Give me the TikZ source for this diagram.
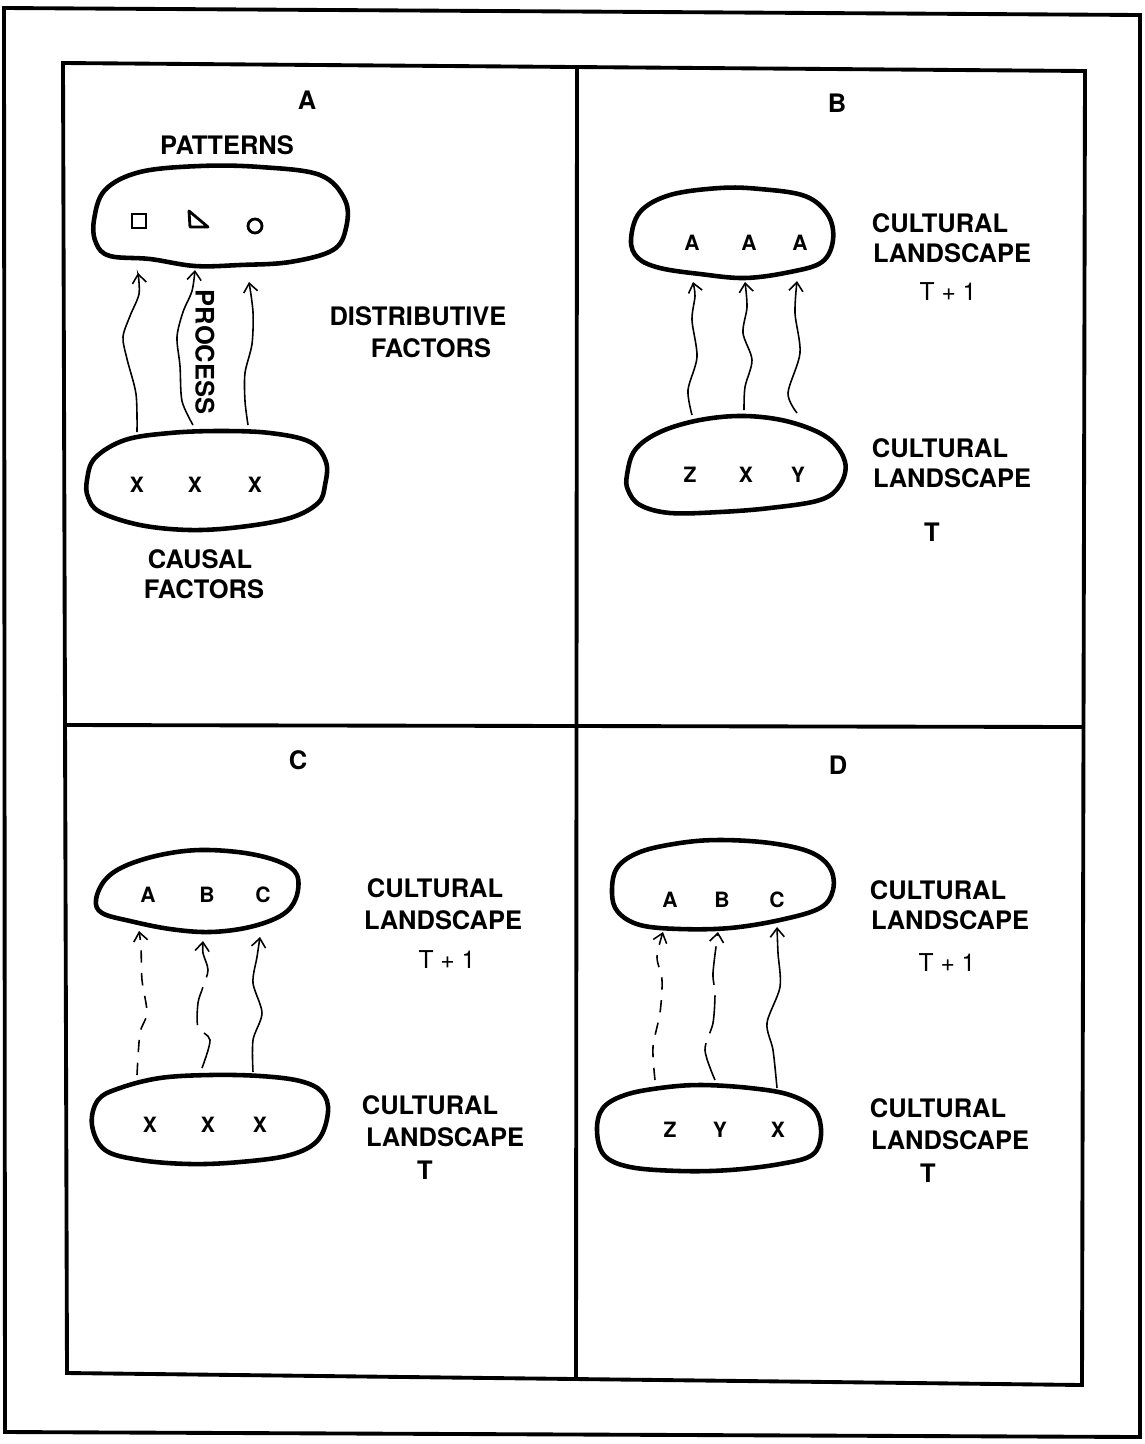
\documentclass[tikz,border=0pt]{standalone}
\usepackage{fontspec}
\setmainfont{TeX Gyre Heros}
\usetikzlibrary{arrows.meta}

\tikzset{
  blob/.style={line width=2.6pt, line join=round},
  frame/.style={line width=2.2pt},
  flow/.style={line width=0.9pt, -{Straight Barb[length=5pt,width=8pt]}},
  flowdash/.style={flow, dash pattern=on 7pt off 6pt},
  flowlong/.style={flow, dash pattern=on 22pt off 6pt},
  lbl/.style={font=\fontsize{14.5}{17}\selectfont\bfseries, inner sep=0pt},
  tlbl/.style={font=\fontsize{14}{17}\selectfont, inner sep=0pt},
  sym/.style={font=\fontsize{12}{14}\selectfont\bfseries, inner sep=0pt}
}

\begin{document}
\begin{tikzpicture}[x=0.02cm, y=-0.02cm]
        \useasboundingbox (0,0) rectangle (1144,1444);

        % Frames
        \draw[frame] (4,8) -- (1140,15) -- (1140,1437) -- (5,1432) -- cycle;
        \draw[frame] (63,63) -- (1085,71) -- (1082,1385) -- (67,1373) -- cycle;
        \draw[frame] (577,67) -- (576,1380);
        \draw[frame] (64,725) -- (1083,727);

        % Panel A
        \node[lbl] (pA) at (307,100) {A};
        \node[lbl] (patt) at (227,145) {PATTERNS};
        \draw[blob] plot[smooth cycle, tension=0.6] coordinates {(94,220) (105,190) (140,172) (200,166) (260,167) (320,175) (345,200) (346,228) (333,250) (290,262) (240,265) (195,266) (150,259) (110,256) (96,243)};
        \draw[line width=1.6pt] (132,214) rectangle (146,228);
        \draw[line width=1.6pt, line join=round] (189,211) -- (190,227) -- (208,227) -- cycle;
        \draw[line width=1.6pt] (255,226) circle[radius=0.14cm];
        \draw[blob] plot[smooth cycle, tension=0.6] coordinates {(87,480) (95,458) (125,440) (170,433) (220,431) (270,433) (310,442) (326,462) (325,485) (318,503) (290,518) (240,527) (190,530) (140,525) (100,512) (88,497)};
        \node[sym] (ax1) at (137,485) {X};
        \node[sym] (ax2) at (195,485) {X};
        \node[sym] (ax3) at (255,485) {X};
        \coordinate (a1s) at (137,432); \coordinate (a1e) at (138,273);
        \coordinate (a2s) at (193,425); \coordinate (a2e) at (195,270);
        \coordinate (a3s) at (248,425); \coordinate (a3e) at (249,282);
        \draw[flow] plot[smooth] coordinates {(a1s) (136,394) (127,359) (123,337) (130,316) (139,294) (a1e)};
        \draw[flow] plot[smooth] coordinates {(a2s) (182,401) (180,366) (177,337) (183,312) (192,291) (a2e)};
        \draw[flow] plot[smooth] coordinates {(a3s) (245,401) (245,373) (252,344) (253,312) (a3e)};
        \node[lbl, rotate=-90] (proc) at (205,352) {PROCESS};
        \node[lbl] (dist1) at (418,316) {DISTRIBUTIVE};
        \node[lbl] (dist2) at (431,348) {FACTORS};
        \node[lbl] (caus1) at (200,559) {CAUSAL};
        \node[lbl] (caus2) at (204,589) {FACTORS};

        % Panel B
        \node[lbl] (pB) at (837,103) {B};
        \draw[blob] plot[smooth cycle, tension=0.6] coordinates {(631,240) (640,212) (670,195) (720,188) (760,189) (805,196) (828,215) (833,240) (822,262) (790,272) (745,278) (700,274) (660,268) (638,258)};
        \node[sym] (bt1) at (692,243) {A};
        \node[sym] (bt2) at (749,243) {A};
        \node[sym] (bt3) at (800,243) {A};
        \draw[blob] plot[smooth cycle, tension=0.6] coordinates {(627,475) (635,450) (660,432) (700,420) (745,416) (790,422) (828,438) (845,462) (840,485) (820,500) (770,508) (720,512) (670,513) (640,505) (628,490)};
        \node[sym] (bb1) at (690,475) {Z};
        \node[sym] (bb2) at (746,475) {X};
        \node[sym] (bb3) at (798,475) {Y};
        \coordinate (b1s) at (692,415); \coordinate (b1e) at (693,282);
        \coordinate (b2s) at (744,410); \coordinate (b2e) at (745,282);
        \coordinate (b3s) at (797,413); \coordinate (b3e) at (797,281);
        \draw[flow] plot[smooth] coordinates {(b1s) (688,390) (697,357) (692,320) (695,296) (b1e)};
        \draw[flow] plot[smooth] coordinates {(b2s) (745,387) (752,360) (743,333) (747,307) (b2e)};
        \draw[flow] plot[smooth] coordinates {(b3s) (788,393) (800,353) (795,313) (b3e)};
        \node[lbl] (bu1) at (940,223) {CULTURAL};
        \node[lbl] (bu2) at (952,253) {LANDSCAPE};
        \node[tlbl] (bu3) at (948,292) {T + 1};
        \node[lbl] (bl1) at (940,448) {CULTURAL};
        \node[lbl] (bl2) at (952,478) {LANDSCAPE};
        \node[lbl] (bl3) at (932,532) {T};

        % Panel C
        \node[lbl] (pC) at (298,760) {C};
        \draw[blob] plot[smooth cycle, tension=0.6] coordinates {(96,900) (105,880) (125,866) (160,855) (200,850) (245,853) (280,862) (297,875) (296,898) (282,915) (250,927) (210,932) (170,929) (130,921) (102,913)};
        \node[sym] (ct1) at (148,895) {A};
        \node[sym] (ct2) at (207,895) {B};
        \node[sym] (ct3) at (263,895) {C};
        \draw[blob] plot[smooth cycle, tension=0.6] coordinates {(92,1125) (98,1100) (120,1088) (160,1078) (210,1075) (260,1076) (300,1081) (322,1092) (328,1112) (318,1140) (290,1155) (240,1162) (190,1164) (140,1160) (105,1150)};
        \node[sym] (cb1) at (150,1125) {X};
        \node[sym] (cb2) at (208,1125) {X};
        \node[sym] (cb3) at (260,1125) {X};
        \coordinate (c1s) at (137,1075); \coordinate (c1e) at (139,931);
        \coordinate (c2s) at (202,1068); \coordinate (c2e) at (203,941);
        \coordinate (c3s) at (253,1072); \coordinate (c3e) at (260,937);
        \draw[flowdash] plot[smooth] coordinates {(c1s) (140,1033) (147,1013) (142,980) (141,947) (c1e)};
        \draw[flowlong] plot[smooth] coordinates {(c2s) (210,1040) (198,1027) (198,1003) (203,987) (208,970) (203,953) (c2e)};
        \draw[flow] plot[smooth] coordinates {(c3s) (253,1040) (262,1013) (253,983) (257,957) (c3e)};
        \node[lbl] (cu1) at (435,888) {CULTURAL};
        \node[lbl] (cu2) at (443,920) {LANDSCAPE};
        \node[tlbl] (cu3) at (447,960) {T + 1};
        \node[lbl] (cl1) at (430,1105) {CULTURAL};
        \node[lbl] (cl2) at (445,1137) {LANDSCAPE};
        \node[lbl] (cl3) at (425,1170) {T};

        % Panel D
        \node[lbl] (pD) at (838,765) {D};
        \draw[blob] plot[smooth cycle, tension=0.6] coordinates {(612,893) (617,868) (640,852) (680,843) (720,840) (770,843) (810,852) (830,868) (833,890) (820,908) (780,920) (730,928) (680,929) (640,925) (618,912)};
        \node[sym] (dt1) at (670,900) {A};
        \node[sym] (dt2) at (722,900) {B};
        \node[sym] (dt3) at (777,900) {C};
        \draw[blob] plot[smooth cycle, tension=0.6] coordinates {(597,1130) (603,1108) (625,1095) (660,1088) (700,1085) (750,1088) (790,1095) (815,1110) (821,1135) (812,1155) (780,1164) (730,1170) (680,1171) (630,1167) (604,1155)};
        \node[sym] (db1) at (670,1130) {Z};
        \node[sym] (db2) at (720,1130) {Y};
        \node[sym] (db3) at (778,1130) {X};
        \coordinate (d1s) at (655,1080); \coordinate (d1e) at (663,932);
        \coordinate (d2s) at (715,1080); \coordinate (d2e) at (718,932);
        \coordinate (d3s) at (777,1088); \coordinate (d3e) at (777,927);
        \draw[flowdash] plot[smooth] coordinates {(d1s) (653,1047) (660,1013) (662,980) (657,957) (d1e)};
        \draw[flowlong] plot[smooth] coordinates {(d2s) (705,1050) (713,1023) (715,993) (713,973) (d2e)};
        \draw[flow] plot[smooth] coordinates {(d3s) (773,1050) (767,1023) (780,987) (778,953) (d3e)};
        \node[lbl] (du1) at (938,890) {CULTURAL};
        \node[lbl] (du2) at (950,920) {LANDSCAPE};
        \node[tlbl] (du3) at (947,963) {T + 1};
        \node[lbl] (dl1) at (938,1108) {CULTURAL};
        \node[lbl] (dl2) at (950,1140) {LANDSCAPE};
        \node[lbl] (dl3) at (928,1173) {T};
\end{tikzpicture}
\end{document}
